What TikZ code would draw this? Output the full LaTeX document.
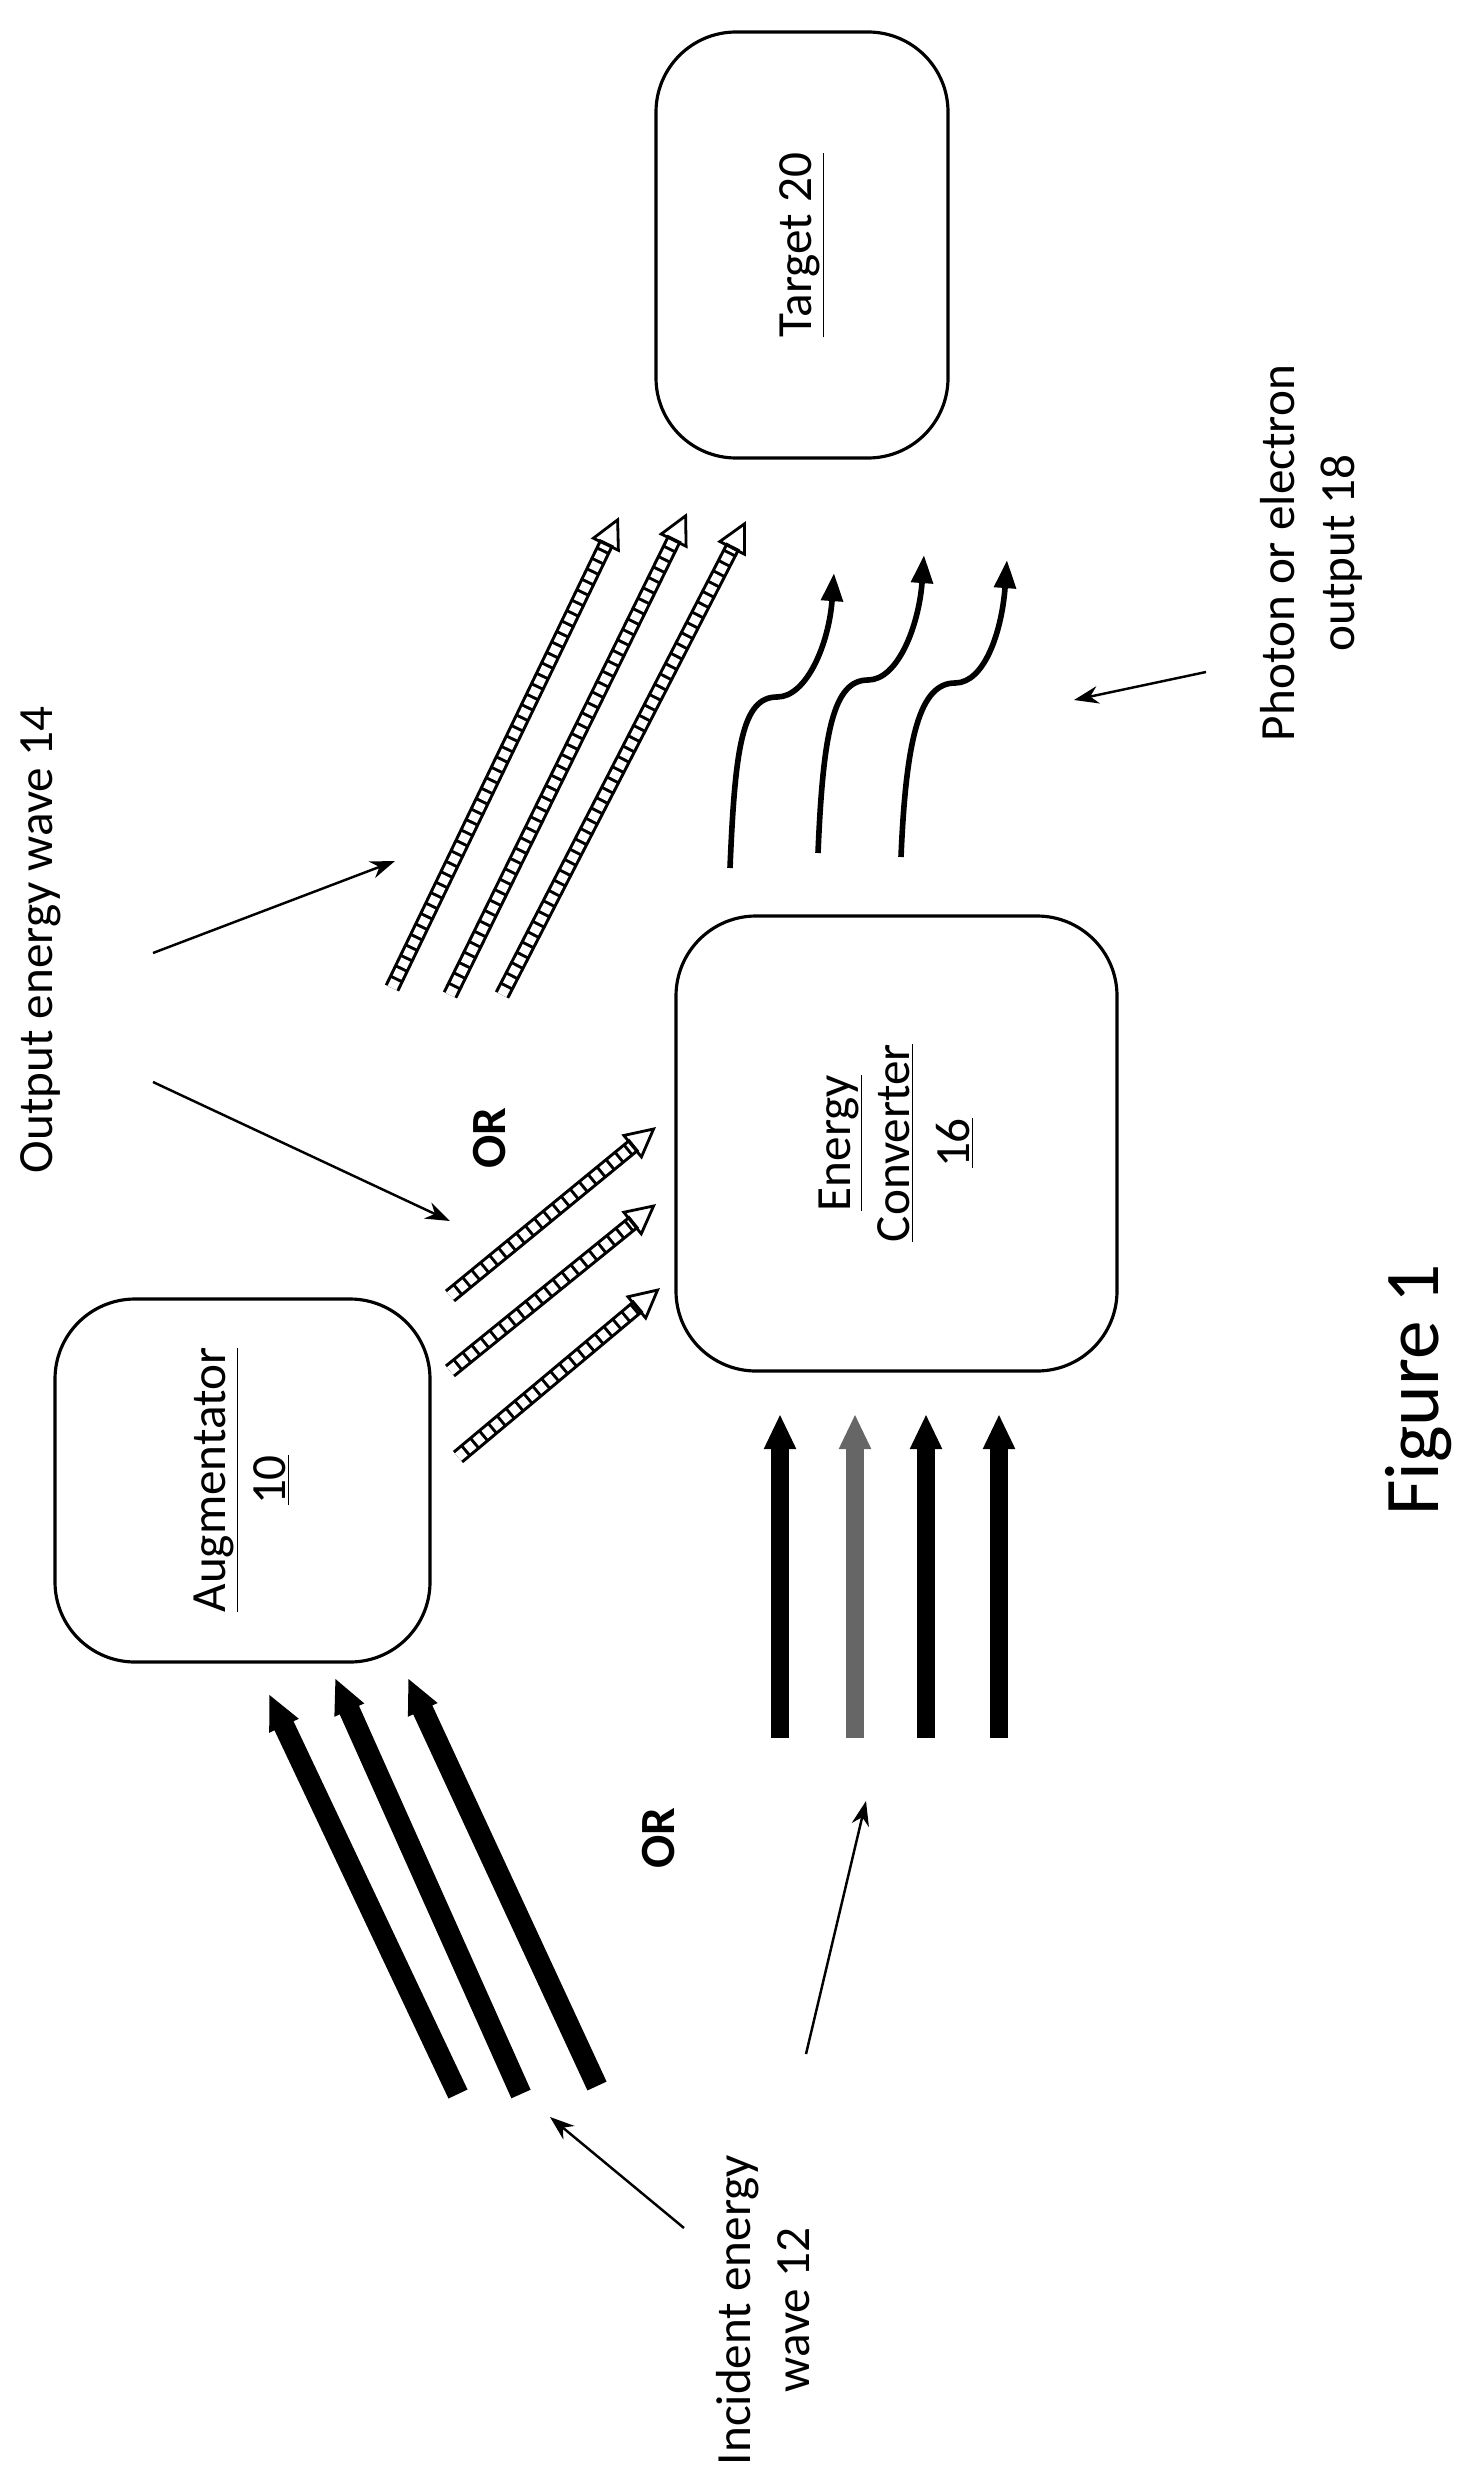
\documentclass[tikz,border=0pt]{standalone}
\usepackage{fontspec}
\setmainfont{Carlito}
\usetikzlibrary{arrows.meta,decorations.markings,calc}

\tikzset{
  box/.style={draw, line width=1.8pt, rounded corners=1.6cm},
  lbl/.style={rotate=90, align=center, font=\fontsize{28}{34}\selectfont},
  pointer/.style={line width=1.4pt, -{Stealth[length=14pt,width=10pt]}},
  beam/.style={line width=10pt, -{Triangle[length=20pt 0,width=17pt 0]}},
  wiggle/.style={line width=3.2pt, -{Triangle[length=16pt,width=12pt]}},
  ladder/.style={draw=none,
    preaction={draw, line width=9pt, shorten >=16pt},
    preaction={draw=white, line width=5.5pt, dash pattern=on 4.8pt off 1.8pt, shorten >=17pt},
    postaction={decorate, decoration={markings, mark=at position 1 with
      {\arrow[line width=1.6pt]{Triangle[open,length=18pt 0,width=18pt 0]}}}}}
}

\begin{document}
\begin{tikzpicture}[x=0.02cm, y=-0.02cm]
\useasboundingbox (0,0) rectangle (1480,2490);

% boxes
\draw[box] (656,32) rectangle (948,458);
\node[lbl] (target) at (802,245) {\underline{Target 20}};
\draw[box] (676,916) rectangle (1117,1371);
\node[lbl] (conv) at (896,1143) {\underline{Energy}\\\underline{Converter}\\\underline{16}};
\draw[box] (55,1299) rectangle (430,1662);
\node[lbl] (aug) at (242,1480) {\underline{Augmentator}\\\underline{10}};

% labels
\node[lbl] (outlbl) at (41,940) {Output energy wave 14};
\node[lbl] (photlbl) at (1311,553) {Photon or electron\\output 18};
\node[lbl] (inclbl) at (763,2310) {Incident energy\\wave 12};
\node[lbl, font=\bfseries\fontsize{28}{34}\selectfont] (or1) at (490,1138) {OR};
\node[lbl, font=\bfseries\fontsize{28}{34}\selectfont] (or2) at (659,1838) {OR};
\node[lbl, font=\fontsize{44}{52}\selectfont] (fig) at (1419,1390) {Figure 1};

% output energy waves
\foreach \a/\b in {{392,988}/{619,517}, {450,995}/{687,513}, {502,995}/{746,521},
                   {450,1296}/{656,1127}, {450,1371}/{656,1204}, {458,1457}/{660,1288}}
  \path[ladder] (\a) -- (\b);

% photon or electron output
\foreach \s/\m/\t in {{730,868}/{777,697}/{834,573}, {818,853}/{868,680}/{924,555},
                      {901,857}/{955,683}/{1007,560}}
  \draw[wiggle] (\s) .. controls ($(\s)+(5,-120)$) and ($(\m)+(-35,0)$) .. (\m)
    .. controls ($(\m)+(30,0)$) and ($(\t)+(-5,70)$) .. (\t);

% incident energy waves
\draw[beam] (780,1738) -- (780,1414);
\draw[beam, black!60] (855,1738) -- (855,1414);
\draw[beam] (926,1738) -- (926,1414);
\draw[beam] (999,1738) -- (999,1414);
\draw[beam, line width=12pt] (458,2094) -- (269,1694);
\draw[beam, line width=12pt] (521,2094) -- (335,1678);
\draw[beam, line width=12pt] (597,2086) -- (408,1678);

% pointers
\coordinate (p1) at (153,953);  \coordinate (q1) at (395,861);
\coordinate (p2) at (153,1082); \coordinate (q2) at (450,1221);
\coordinate (p3) at (1206,672); \coordinate (q3) at (1074,700);
\coordinate (p4) at (684,2228); \coordinate (q4) at (550,2117);
\coordinate (p5) at (806,2054); \coordinate (q5) at (866,1801);
\foreach \i in {1,...,5} \draw[pointer] (p\i) -- (q\i);
\end{tikzpicture}
\end{document}
